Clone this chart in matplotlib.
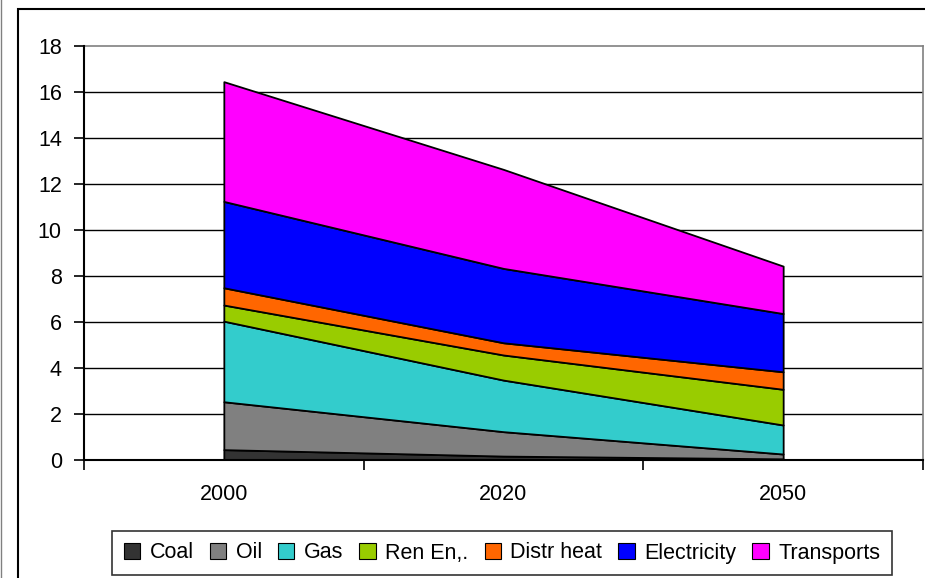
import matplotlib
matplotlib.use("Agg")
import matplotlib.pyplot as plt
from matplotlib.patches import Patch, Rectangle
from matplotlib.lines import Line2D
import numpy as np

plt.rcParams['font.family'] = ['Liberation Sans', 'DejaVu Sans']

years = ["2000", "2020", "2050"]
series_names = ["Coal", "Oil", "Gas", "Ren En,.", "Distr heat", "Electricity", "Transports"]
coal = [0.45, 0.17, 0.05]
oil = [2.08, 1.06, 0.21]
gas = [3.50, 2.24, 1.26]
ren_en = [0.70, 1.09, 1.55]
distr_heat = [0.75, 0.53, 0.76]
electricity = [3.75, 3.23, 2.53]
transports = [5.20, 4.30, 2.06]
y_ticks = [0, 2, 4, 6, 8, 10, 12, 14, 16, 18]

colors = ["#333333", "#808080", "#33CCCC", "#99CC00", "#FF6600", "#0000FF", "#FF00FF"]

W, H = 925, 578
FS = 15.5
fig = plt.figure(figsize=(W / 100, H / 100), dpi=100)

# chart area frame
fig.add_artist(Rectangle((18 / W, -0.1), 1.0, 1 - 9 / H + 0.1, transform=fig.transFigure,
                         fill=False, edgecolor="black", linewidth=1.5))
fig.add_artist(Line2D([0.8 / W, 0.8 / W], [0, 1], transform=fig.transFigure,
                      color="#808080", linewidth=1.0))

ax = fig.add_axes([84 / W, (H - 460) / H, (923 - 84) / W, (460 - 45.5) / H])

x = np.arange(len(years)) + 0.5
ax.stackplot(x, coal, oil, gas, ren_en, distr_heat, electricity, transports,
             colors=colors, edgecolor="black", linewidth=1.3, zorder=3)

ax.set_xlim(0, 3)
ax.set_ylim(0, 18)
ax.set_yticks(y_ticks)
ax.set_yticklabels([str(v) for v in y_ticks])
for v in y_ticks[1:-1]:
    ax.axhline(v, color="black", linewidth=1.0, zorder=1)

ax.set_xticks([0, 1, 2, 3])
ax.set_xticklabels([])
ax.set_xticks(x, minor=True)
ax.set_xticklabels(years, minor=True)
ax.tick_params(axis="x", which="minor", length=0, pad=17, labelsize=FS)
ax.tick_params(axis="x", which="major", length=7, width=1.2, direction="out", color="black")
ax.tick_params(axis="y", length=7, width=1.2, direction="out", labelsize=FS, pad=9)

for side in ("top", "right"):
    ax.spines[side].set_color("#808080")
    ax.spines[side].set_linewidth(1.2)
for side in ("left", "bottom"):
    ax.spines[side].set_color("black")
    ax.spines[side].set_linewidth(1.5)
    ax.spines[side].set_zorder(5)

handles = [Patch(facecolor=c, edgecolor="black", linewidth=0.8) for c in colors]
leg = fig.legend(handles, series_names, loc="center", ncol=7,
                 bbox_to_anchor=((119 + 885) / 2 / W, 1 - 553 / H),
                 frameon=True, fancybox=False, edgecolor="black",
                 handlelength=0.75, handleheight=0.75, handletextpad=0.45,
                 columnspacing=0.75, borderpad=0.55, fontsize=FS, borderaxespad=0)
leg.get_frame().set_linewidth(1.2)

fig.savefig("out.png", dpi=100)
